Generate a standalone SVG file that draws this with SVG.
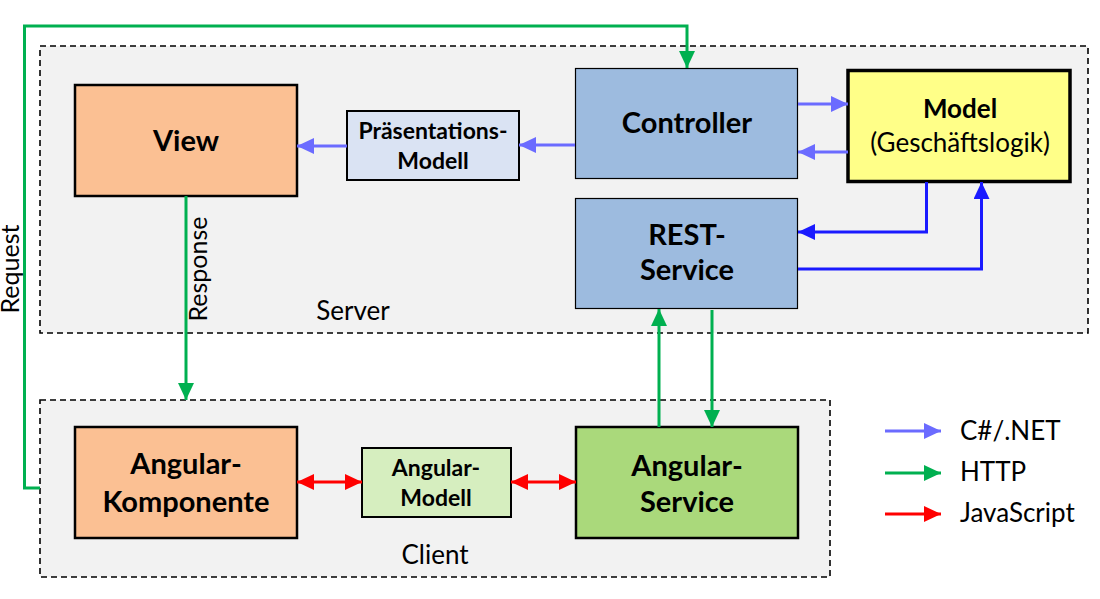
<svg xmlns="http://www.w3.org/2000/svg" width="1100" height="599" viewBox="0 0 1100 599">
<style>
text{font-family:Lato,"Open Sans","Liberation Sans",sans-serif;fill:#000}
.b{font-weight:bold}
.t24{font-size:29px}
.t18{font-size:23px}
.t20{font-size:26px}
.tm{font-size:26px}
.box{stroke:#000}
.cont{fill:#f2f2f2;stroke:#000;stroke-width:1.6;stroke-dasharray:6 4}
.c{stroke:#6b6bff;stroke-width:3;fill:none}
.d{stroke:#1a1aff;stroke-width:3;fill:none}
.h{stroke:#00b050;stroke-width:3;fill:none}
.j{stroke:#ff0000;stroke-width:3;fill:none}
</style>
<defs>
<marker id="ac" markerUnits="userSpaceOnUse" markerWidth="18" markerHeight="16" refX="17" refY="8" orient="auto"><path d="M0,0 L17,8 L0,16 Z" fill="#6b6bff"/></marker>
<marker id="ad" markerUnits="userSpaceOnUse" markerWidth="18" markerHeight="16" refX="17" refY="8" orient="auto"><path d="M0,0 L17,8 L0,16 Z" fill="#1a1aff"/></marker>
<marker id="ah" markerUnits="userSpaceOnUse" markerWidth="18" markerHeight="16" refX="17" refY="8" orient="auto"><path d="M0,0 L17,8 L0,16 Z" fill="#00b050"/></marker>
<marker id="aj" markerUnits="userSpaceOnUse" markerWidth="18" markerHeight="16" refX="17" refY="8" orient="auto-start-reverse"><path d="M0,0 L17,8 L0,16 Z" fill="#ff0000"/></marker>
</defs>
<rect width="1100" height="599" fill="#fff"/>
<g id="server">
<rect class="cont" x="40" y="46" width="1048" height="287"/>
<text class="t20" x="353" y="320" text-anchor="middle">Server</text>
</g>
<g id="client">
<rect class="cont" x="40" y="400" width="790" height="177"/>
<text class="t20" x="435" y="564" text-anchor="middle">Client</text>
</g>
<g id="view">
<rect class="box" x="75" y="85" width="222" height="111" fill="#fbc093" stroke-width="2.5"/>
<text class="b t24" x="186" y="151" text-anchor="middle">View</text>
</g>
<g id="praesentationsmodell">
<rect class="box" x="347" y="111" width="172" height="69" fill="#dae3f3" stroke-width="2"/>
<text class="b t18" x="433" y="139" text-anchor="middle">Präsentations-</text>
<text class="b t18" x="433" y="169" text-anchor="middle">Modell</text>
</g>
<g id="controller">
<rect class="box" x="575.5" y="68.5" width="222" height="110" fill="#9dbbdf" stroke-width="1.2"/>
<text class="b t24" x="687" y="133" text-anchor="middle">Controller</text>
</g>
<g id="model">
<rect class="box" x="848" y="70.5" width="222" height="111" fill="#ffff88" stroke-width="3.5"/>
<text class="b tm" x="960" y="118" text-anchor="middle">Model</text>
<text class="t20" x="960" y="152" text-anchor="middle">(Geschäftslogik)</text>
</g>
<g id="restservice">
<rect class="box" x="575.5" y="198.5" width="222" height="110" fill="#9dbbdf" stroke-width="1.2"/>
<text class="b t24" x="687" y="245" text-anchor="middle">REST-</text>
<text class="b t24" x="687" y="280" text-anchor="middle">Service</text>
</g>
<g id="angularkomponente">
<rect class="box" x="75" y="427" width="222" height="111" fill="#fbc093" stroke-width="2.5"/>
<text class="b t24" x="186" y="474" text-anchor="middle">Angular-</text>
<text class="b t24" x="186" y="512" text-anchor="middle">Komponente</text>
</g>
<g id="angularmodell">
<rect class="box" x="362" y="448" width="149" height="69" fill="#d6eebf" stroke-width="2"/>
<text class="b t18" x="436" y="476" text-anchor="middle">Angular-</text>
<text class="b t18" x="436" y="506" text-anchor="middle">Modell</text>
</g>
<g id="angularservice">
<rect class="box" x="576" y="427" width="222" height="111" fill="#aad97b" stroke-width="2.5"/>
<text class="b t24" x="687" y="476" text-anchor="middle">Angular-</text>
<text class="b t24" x="687" y="512" text-anchor="middle">Service</text>
</g>
<g id="connectors">
<path class="h" d="M40,488 H24.5 V26 H687 V68" marker-end="url(#ah)"/>
<text class="t20" transform="translate(19,269) rotate(-90)" text-anchor="middle" style="font-size:25px">Request</text>
<path class="h" d="M186,196 V400" marker-end="url(#ah)"/>
<text class="t20" transform="translate(207,269) rotate(-90)" text-anchor="middle" style="font-size:25px">Response</text>
<path class="c" d="M347,146 H297" marker-end="url(#ac)"/>
<path class="c" d="M575,145 H519" marker-end="url(#ac)"/>
<path class="c" d="M798,104 H848" marker-end="url(#ac)"/>
<path class="c" d="M848,152 H798" marker-end="url(#ac)"/>
<path class="d" d="M926.5,182 V232 H798" marker-end="url(#ad)"/>
<path class="d" d="M798,269 H981.5 V182" marker-end="url(#ad)"/>
<path class="h" d="M659,427 V309" marker-end="url(#ah)"/>
<path class="h" d="M712,310 V427" marker-end="url(#ah)"/>
<path class="j" d="M297,482 H362" marker-start="url(#aj)" marker-end="url(#aj)"/>
<path class="j" d="M511,482 H576" marker-start="url(#aj)" marker-end="url(#aj)"/>
</g>
<g id="legend">
<path class="c" d="M885,431 H941" marker-end="url(#ac)"/>
<path class="h" d="M885,473 H941" marker-end="url(#ah)"/>
<path class="j" d="M885,514 H941" marker-end="url(#aj)"/>
<text class="t20" x="960" y="440">C#/.NET</text>
<text class="t20" x="960" y="481">HTTP</text>
<text class="t20" x="960" y="522">JavaScript</text>
</g>
</svg>
